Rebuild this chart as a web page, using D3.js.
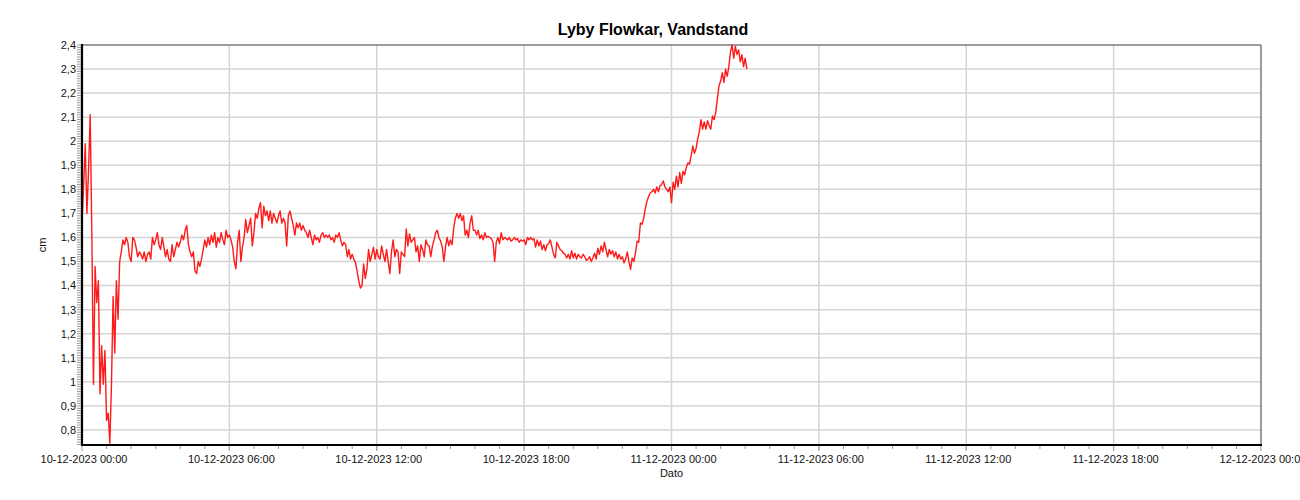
<!DOCTYPE html>
<html><head><meta charset="utf-8">
<script src="https://cdn.jsdelivr.net/npm/d3@7"></script>
<style>body{margin:0;background:#fff;} svg{display:block;font-family:"Liberation Sans",Arial,sans-serif;}</style>
</head><body><svg id="c" width="1300" height="500"></svg>
<script>
const chartTitle = "Lyby Flowkar, Vandstand";
const yAxisTitle = "cm";
const xAxisTitle = "Dato";
const startTime = "2023-12-10T00:00:00";
const endTime = "2023-12-12T00:00:00";
const stepMinutes = 4;
const yDomain = [0.7375, 2.4];
const yTicks = [0.8, 0.9, 1.0, 1.1, 1.2, 1.3, 1.4, 1.5, 1.6, 1.7, 1.8, 1.9, 2.0, 2.1, 2.2, 2.3, 2.4];
const yTickLabels = ["0,8", "0,9", "1", "1,1", "1,2", "1,3", "1,4", "1,5", "1,6", "1,7", "1,8", "1,9", "2", "2,1", "2,2", "2,3", "2,4"];
const xTicks = ["2023-12-10T00:00:00", "2023-12-10T06:00:00", "2023-12-10T12:00:00", "2023-12-10T18:00:00",
  "2023-12-11T00:00:00", "2023-12-11T06:00:00", "2023-12-11T12:00:00", "2023-12-11T18:00:00", "2023-12-12T00:00:00"];
const xTickLabels = ["10-12-2023 00:00", "10-12-2023 06:00", "10-12-2023 12:00", "10-12-2023 18:00",
  "11-12-2023 00:00", "11-12-2023 06:00", "11-12-2023 12:00", "11-12-2023 18:00", "12-12-2023 00:00"];

// Water level (cm), one value every 4 minutes from 10-12-2023 00:00 — one row per hour
const levelCm = [
  1.66, 1.82, 1.99, 1.70, 1.88, 2.11, 1.62, 0.99, 1.48, 1.33, 1.42, 0.95, 1.15, 0.99, 1.13,
  0.84, 0.87, 0.745, 0.99, 1.355, 1.12, 1.42, 1.26, 1.50, 1.54, 1.59, 1.57, 1.60, 1.58, 1.52,
  1.50, 1.60, 1.59, 1.56, 1.52, 1.54, 1.53, 1.51, 1.54, 1.50, 1.53, 1.54, 1.51, 1.60, 1.57,
  1.59, 1.62, 1.57, 1.55, 1.60, 1.56, 1.52, 1.55, 1.51, 1.50, 1.57, 1.52, 1.55, 1.58, 1.56,
  1.58, 1.61, 1.59, 1.63, 1.65, 1.57, 1.54, 1.52, 1.54, 1.46, 1.45, 1.50, 1.48, 1.51, 1.55,
  1.59, 1.56, 1.60, 1.57, 1.61, 1.58, 1.62, 1.56, 1.60, 1.58, 1.62, 1.59, 1.57, 1.63, 1.60,
  1.61, 1.59, 1.56, 1.50, 1.47, 1.58, 1.63, 1.50, 1.56, 1.60, 1.675, 1.62, 1.65, 1.68, 1.565,
  1.62, 1.70, 1.68, 1.72, 1.745, 1.64, 1.73, 1.69, 1.71, 1.67, 1.71, 1.66, 1.70, 1.68, 1.66,
  1.69, 1.71, 1.66, 1.68, 1.66, 1.565, 1.69, 1.71, 1.68, 1.65, 1.61, 1.66, 1.64, 1.66, 1.63,
  1.65, 1.63, 1.62, 1.60, 1.63, 1.60, 1.57, 1.61, 1.59, 1.60, 1.58, 1.61, 1.62, 1.60, 1.61,
  1.60, 1.61, 1.59, 1.60, 1.58, 1.61, 1.60, 1.62, 1.59, 1.565, 1.58, 1.57, 1.52, 1.55, 1.51,
  1.53, 1.51, 1.495, 1.46, 1.42, 1.39, 1.40, 1.49, 1.43, 1.47, 1.55, 1.50, 1.53, 1.56, 1.51,
  1.55, 1.52, 1.51, 1.565, 1.53, 1.50, 1.55, 1.50, 1.45, 1.54, 1.59, 1.52, 1.55, 1.54, 1.45,
  1.54, 1.53, 1.52, 1.635, 1.565, 1.615, 1.58, 1.59, 1.60, 1.54, 1.565, 1.50, 1.57, 1.55, 1.52,
  1.59, 1.57, 1.565, 1.52, 1.565, 1.59, 1.62, 1.63, 1.60, 1.585, 1.56, 1.50, 1.56, 1.60, 1.565,
  1.59, 1.57, 1.64, 1.68, 1.70, 1.68, 1.70, 1.67, 1.69, 1.61, 1.63, 1.60, 1.66, 1.69, 1.63,
  1.63, 1.61, 1.63, 1.595, 1.61, 1.59, 1.62, 1.60, 1.605, 1.60, 1.595, 1.58, 1.50, 1.58, 1.60,
  1.575, 1.62, 1.59, 1.60, 1.595, 1.59, 1.60, 1.585, 1.59, 1.60, 1.59, 1.595, 1.58, 1.59, 1.585,
  1.59, 1.57, 1.60, 1.59, 1.60, 1.59, 1.595, 1.56, 1.59, 1.565, 1.585, 1.55, 1.57, 1.545, 1.57,
  1.575, 1.59, 1.56, 1.53, 1.515, 1.58, 1.565, 1.55, 1.545, 1.535, 1.53, 1.515, 1.53, 1.51, 1.545,
  1.515, 1.535, 1.51, 1.53, 1.52, 1.515, 1.53, 1.52, 1.505, 1.51, 1.52, 1.50, 1.515, 1.535, 1.51,
  1.555, 1.53, 1.565, 1.54, 1.58, 1.55, 1.52, 1.55, 1.53, 1.545, 1.52, 1.54, 1.51, 1.53, 1.51,
  1.52, 1.495, 1.51, 1.54, 1.50, 1.467, 1.515, 1.50, 1.535, 1.585, 1.58, 1.66, 1.655, 1.68, 1.72,
  1.75, 1.77, 1.785, 1.79, 1.80, 1.785, 1.81, 1.79, 1.815, 1.82, 1.835, 1.81, 1.80, 1.79, 1.81,
  1.745, 1.83, 1.80, 1.855, 1.81, 1.87, 1.825, 1.875, 1.86, 1.89, 1.91, 1.905, 1.94, 1.98, 1.95,
  1.97, 2.01, 2.04, 2.09, 2.05, 2.08, 2.05, 2.085, 2.065, 2.05, 2.105, 2.09, 2.12, 2.175, 2.23,
  2.25, 2.285, 2.245, 2.30, 2.27, 2.31, 2.37, 2.40, 2.345, 2.395, 2.36, 2.38, 2.33, 2.36, 2.31,
  2.345, 2.30
];

const svg = d3.select("#c");
const L = 82, R = 1261, T = 45, B = 445;
const parse = d3.isoParse;
const t0 = parse(startTime);
const x = d3.scaleTime().domain([t0, parse(endTime)]).range([L, R]);
const y = d3.scaleLinear().domain(yDomain).range([B, T]);
const data = levelCm.map((v, i) => ({t: d3.timeMinute.offset(t0, i * stepMinutes), v}));

// horizontal grid
svg.append("g").selectAll("line").data(yTicks.filter(d => d < 2.39)).join("line")
  .attr("x1", L).attr("x2", R).attr("y1", d => y(d)).attr("y2", d => y(d))
  .attr("stroke", "#d4d4d4").attr("stroke-width", 1.5);
// vertical grid
svg.append("g").selectAll("line").data(xTicks.slice(1, -1).map(parse)).join("line")
  .attr("x1", d => x(d)).attr("x2", d => x(d)).attr("y1", T).attr("y2", B + 5)
  .attr("stroke", "#d4d4d4").attr("stroke-width", 1.5);

// top and right frame
svg.append("line").attr("x1", L).attr("x2", R).attr("y1", T).attr("y2", T).attr("stroke", "#7a7a7a").attr("stroke-width", 1.5);
svg.append("line").attr("x1", R).attr("x2", R).attr("y1", T).attr("y2", B).attr("stroke", "#7a7a7a").attr("stroke-width", 1.5);

// y minor ticks
const yMinor = d3.range(74, 241).map(k => k / 100);
svg.append("g").selectAll("line").data(yMinor).join("line")
  .attr("x1", L - 5).attr("x2", L - 1).attr("y1", d => y(d)).attr("y2", d => y(d))
  .attr("stroke", "#9a9a9a").attr("stroke-width", 1);

// x minor ticks (every 1.5 h)
const xMinor = d3.timeMinute.every(90).range(x.domain()[0], d3.timeMinute.offset(x.domain()[1], 1));
svg.append("g").selectAll("line").data(xMinor).join("line")
  .attr("x1", d => x(d)).attr("x2", d => x(d)).attr("y1", B + 1).attr("y2", d => (+d % (6 * 3600e3) === 0) ? B + 6 : B + 4)
  .attr("stroke", "#9a9a9a").attr("stroke-width", 1);

// line
svg.append("path").datum(data)
  .attr("d", d3.line().x(d => x(d.t)).y(d => y(d.v)))
  .attr("fill", "none").attr("stroke", "#ff1a1a").attr("stroke-width", 1.4).attr("stroke-linejoin", "round");

// axes lines
svg.append("line").attr("x1", L).attr("x2", L).attr("y1", T - 1).attr("y2", B + 1).attr("stroke", "#000").attr("stroke-width", 2.2);
svg.append("line").attr("x1", L - 1).attr("x2", R + 1).attr("y1", B).attr("y2", B).attr("stroke", "#000").attr("stroke-width", 2.2);

// y tick labels
svg.append("g").selectAll("text").data(yTicks).join("text")
  .attr("x", L - 6).attr("y", d => y(d)).attr("dy", "0.35em").attr("text-anchor", "end")
  .attr("font-size", 11).attr("fill", "#111").text((d, i) => yTickLabels[i]);

// x tick labels
svg.append("g").selectAll("text").data(xTicks).join("text")
  .attr("x", (d, i) => x(parse(d)) + 2).attr("y", 463).attr("text-anchor", "middle")
  .attr("font-size", 11).attr("fill", "#111").text((d, i) => xTickLabels[i]);

// titles
svg.append("text").attr("x", 653).attr("y", 35).attr("text-anchor", "middle")
  .attr("font-size", 16).attr("font-weight", "bold").attr("fill", "#000").text(chartTitle);
svg.append("text").attr("x", (L + R) / 2).attr("y", 477).attr("text-anchor", "middle")
  .attr("font-size", 11).attr("fill", "#111").text(xAxisTitle);
svg.append("text").attr("transform", "translate(46,245) rotate(-90)").attr("text-anchor", "middle")
  .attr("font-size", 11).attr("fill", "#111").text(yAxisTitle);
</script></body></html>
